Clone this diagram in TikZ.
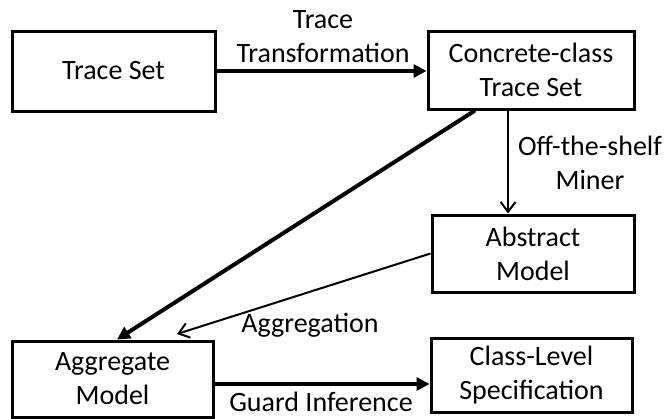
\documentclass[tikz,border=0pt]{standalone}
\usepackage{fontspec}
\setmainfont{Carlito}
\usetikzlibrary{arrows.meta,calc}
\begin{document}
\begin{tikzpicture}[x=1pt,y=-1pt,
  txt/.style={font=\fontsize{28}{34}\selectfont, align=center, inner sep=0pt},
  box/.style={txt, draw, line width=3pt},
  thickarrow/.style={line width=4pt, -{Triangle[length=13pt,width=13pt]}},
  thinarrow/.style={line width=2pt, -{Straight Barb[length=10pt,width=15pt,line width=2pt]}}]
\useasboundingbox (0,0) rectangle (667,418);

% process steps
\node[box, minimum width=203pt, minimum height=80pt] (ts) at (113.5,71) {Trace Set};
\node[box, minimum width=206pt, minimum height=78pt] (cc) at (531,70) {Concrete-class\\Trace Set};
\node[box, minimum width=202pt, minimum height=77pt] (am) at (533,253.5) {Abstract\\Model};
\node[box, minimum width=201pt, minimum height=76pt] (ag) at (112.5,379) {Aggregate\\Model};
\node[box, minimum width=201pt, minimum height=74pt] (cl) at (531.5,375) {Class-Level\\Specification};

% helper coordinates for connector ends
\coordinate (vx) at (508,0);
\coordinate (d0) at (475,0);
\coordinate (d1) at (117,0);
\coordinate (aggin) at (177,334);
\coordinate (gy) at (0,384);

% connectors
\draw[thickarrow] (ts.east) -- (cc.west |- ts.east);
\draw[thinarrow] (cc.south -| vx) -- (am.north -| vx);
\draw[thickarrow] (cc.south -| d0) -- (ag.north -| d1);
\draw[thinarrow] (am.west) -- (aggin);
\draw[thickarrow] (ag.east |- gy) -- (cl.west |- gy);

% connector labels
\node[txt] (lt) at (323,37) {Trace\\Transformation};
\node[txt] (lm) at (590,163) {Off-the-shelf\\Miner};
\node[txt] (la) at (310,325) {Aggregation};
\node[txt] (lg) at (321,402) {Guard Inference};
\end{tikzpicture}
\end{document}
